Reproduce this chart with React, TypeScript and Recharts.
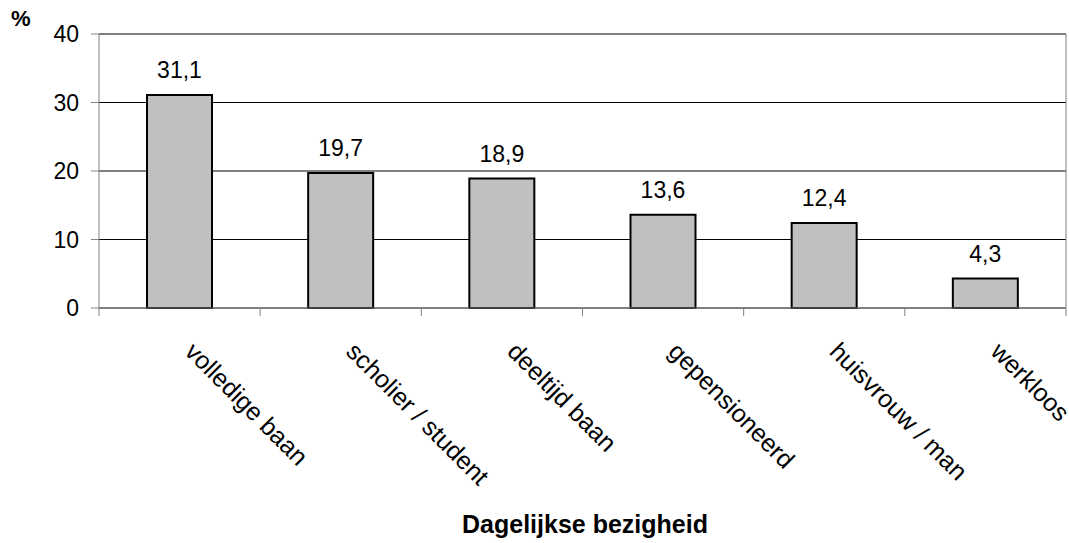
import { Bar, BarChart, CartesianGrid, LabelList, ReferenceLine, XAxis, YAxis } from 'recharts'

const categories = ['volledige baan', 'scholier / student', 'deeltijd baan', 'gepensioneerd', 'huisvrouw / man', 'werkloos']
const values = [31.1, 19.7, 18.9, 13.6, 12.4, 4.3]
const yTicks = [0, 10, 20, 30, 40]
const xTicks = [0, 0.5, 1, 1.5, 2, 2.5, 3, 3.5, 4, 4.5, 5, 5.5, 6]

const font = 'Arial, "Liberation Sans", sans-serif'
const axisGray = '#808080'

const data = categories.map((name, i) => ({ name, pos: i + 0.5, value: values[i] }))

function CategoryTick({ x, y, payload }: any) {
  const v = payload.value as number
  if (Number.isInteger(v)) {
    return <line x1={x} y1={y} x2={x} y2={y + 8} stroke={axisGray} />
  }
  const name = categories[Math.floor(v)]
  const tx = x + 4
  const ty = y + 45
  return (
    <text x={tx} y={ty} transform={`rotate(45 ${tx} ${ty})`} textAnchor="start" fontSize={25} fontFamily={font} fill="#000">
      {name}
    </text>
  )
}

export default function App() {
  return (
    <div style={{ position: 'absolute', left: 0, top: 0, width: 1069, height: 543, background: '#fff', fontFamily: font }}>
      <div style={{ position: 'absolute', left: 11, top: 6, fontSize: 22, fontWeight: 'bold' }}>%</div>
      <BarChart width={1069} height={543} data={data} margin={{ top: 34, right: 3, left: 0, bottom: 0 }}>
        <CartesianGrid vertical={false} stroke="#000" />
        <XAxis
          dataKey="pos"
          type="number"
          domain={[0, 6]}
          ticks={xTicks}
          interval={0}
          height={235}
          tickLine={false}
          tickSize={0}
          tickMargin={0}
          stroke={axisGray}
          tick={<CategoryTick />}
        />
        <YAxis
          domain={[0, 40]}
          ticks={yTicks}
          width={99}
          tickSize={8}
          tickMargin={12}
          stroke={axisGray}
          tick={{ fontSize: 23, fill: '#000', fontFamily: font }}
        />
        <ReferenceLine y={40} stroke={axisGray} />
        <ReferenceLine x={6} stroke={axisGray} />
        <Bar dataKey="value" fill="#C0C0C0" stroke="#000" strokeWidth={2} barSize={65} isAnimationActive={false}>
          <LabelList
            dataKey="value"
            position="top"
            offset={17}
            formatter={(v: any) => String(v).replace('.', ',')}
            style={{ fontSize: 23, fill: '#000', fontFamily: font }}
          />
        </Bar>
      </BarChart>
      <div style={{ position: 'absolute', left: 0, width: 1170, top: 510, textAlign: 'center', fontSize: 25, fontWeight: 'bold' }}>
        Dagelijkse bezigheid
      </div>
    </div>
  )
}
